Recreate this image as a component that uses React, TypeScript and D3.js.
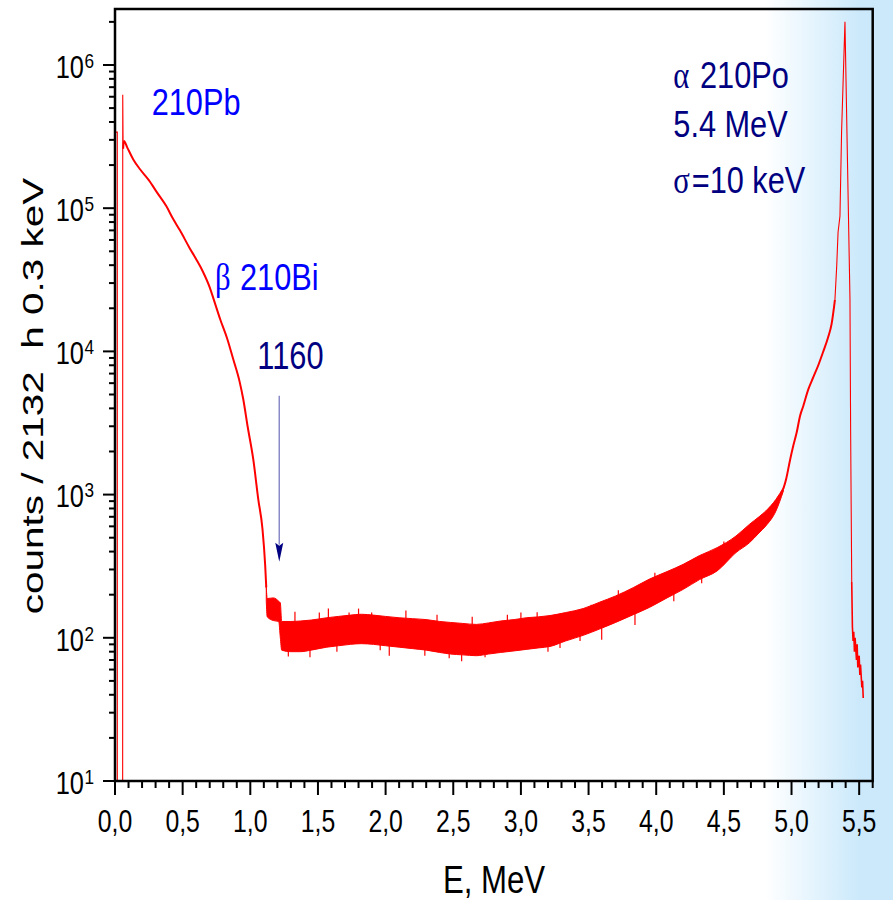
import React from 'react';
import * as d3 from 'd3';

const W = 893;
const H = 900;

// Axis ticks
const xMajor = [0, 0.5, 1.0, 1.5, 2.0, 2.5, 3.0, 3.5, 4.0, 4.5, 5.0, 5.5];
const xLabels = ['0,0', '0,5', '1,0', '1,5', '2,0', '2,5', '3,0', '3,5', '4,0', '4,5', '5,0', '5,5'];
const yDecades = [1, 2, 3, 4, 5, 6];

// Low-energy spikes (210Pb region)
const spikeE = [0.001, 0.0015, 0.017, 0.0172, 0.0565, 0.0572, 0.06];
const spikeV = [1, 340000, 340000, 1, 1, 620000, 260000];

// beta 210Bi continuum
const betaE = [0.06, 0.066, 0.09, 0.135, 0.185, 0.25, 0.31, 0.38, 0.43, 0.48, 0.55, 0.6, 0.65, 0.7, 0.73, 0.78, 0.83, 0.874, 0.92, 0.948, 0.98, 1.022, 1.059, 1.09, 1.11, 1.118];
const betaV = [260000, 295000, 266000, 219000, 187000, 157000, 129000, 103000, 84000, 70000, 53000, 44000, 36000, 28000, 23000, 16500, 12200, 8800, 6200, 4630, 3000, 1760, 927, 575, 320, 225];

// noisy flat region: envelope (upper / lower) of the counts
const bandE = [1.118, 1.125, 1.17, 1.21, 1.222, 1.232, 1.3, 1.37, 1.45, 1.565, 1.65, 1.74, 1.82, 1.91, 2.0, 2.1, 2.2, 2.3, 2.4, 2.48, 2.57, 2.67, 2.76, 2.85, 2.95, 3.04, 3.13, 3.215, 3.33, 3.46, 3.58, 3.7, 3.83, 3.95, 4.08, 4.2, 4.32, 4.45, 4.59, 4.69, 4.76, 4.81, 4.885, 4.94];
const bandHi = [230, 188, 190, 180, 175, 130, 130, 131, 133, 138, 141, 144, 146, 144, 141, 138, 136, 134, 130, 128, 126, 124, 127, 131, 134, 138, 140, 143, 150, 160, 177, 196, 224, 257, 290, 326, 375, 426, 514, 621, 700, 769, 927, 1120];
const bandLo = [180, 140, 132, 130, 100, 82, 80, 80, 82, 86, 88, 90, 91, 90, 88, 86, 84, 82, 79, 77, 76, 75, 77, 79, 81, 83, 85, 87, 95, 104, 115, 128, 145, 163, 190, 218, 255, 293, 394, 462, 540, 604, 769, 1060];

// isolated outlier channels visible beyond the band
const outE = [1.281, 1.33, 1.441, 1.51, 1.577, 1.64, 1.73, 1.80, 1.897, 1.96, 2.027, 2.15, 2.29, 2.38, 2.47, 2.562, 2.64, 2.735, 2.9, 3.0, 3.12, 3.2, 3.289, 3.437, 3.52, 3.597, 3.72, 3.843, 3.99, 4.13, 4.336, 4.5];
const outV = [74, 152, 73, 150, 160, 80, 150, 160, 150, 82, 75, 155, 75, 145, 72, 68.5, 140, 73, 145, 150, 151, 80, 85, 95, 170, 97, 215, 123, 285, 180, 240, 470];

// alpha 210Po low-energy shoulder
const alphaE = [4.94, 4.96, 4.99, 5.013, 5.038, 5.063, 5.087, 5.124, 5.161, 5.2, 5.235, 5.27, 5.296, 5.321];
const alphaV = [1100, 1280, 1760, 2190, 2710, 3540, 4160, 5430, 6600, 8100, 10000, 12500, 15500, 23000];

// alpha peak
const peakE = [5.321, 5.334, 5.344, 5.358, 5.37, 5.395, 5.432, 5.437, 5.445];
const peakV = [23000, 39400, 68000, 88000, 340000, 2000000, 23100, 2700, 245];

// high-energy tail
const tailE = [5.445, 5.45, 5.455, 5.46, 5.465, 5.47, 5.48, 5.485, 5.49, 5.5, 5.505, 5.51, 5.52, 5.525, 5.53];
const tailV = [245, 120, 95, 110, 80, 100, 70, 90, 62, 75, 55, 65, 45, 50, 38];

// arrow marking 1160 keV
const arrowE = 1.214;
const arrowTop = 4900;
const arrowTip = 340;

const PL = 115;
const PR = 872.7;
const PT = 9;
const PB = 781;

const SANS = '"Liberation Sans", Arial, Helvetica, sans-serif';
const SERIF = '"Liberation Serif", "Times New Roman", serif';
const BLUE = '#0000ff';
const NAVY = '#000080';
const RED = '#ff0000';

export default function App() {
  const x = d3.scaleLinear().domain([0, 5.6]).range([PL, PR]);
  const y = d3.scaleLog().domain([10, 2.46e6]).range([PB, PT]);

  const line = d3
    .line<[number, number]>()
    .x((d) => x(d[0]))
    .y((d) => y(d[1]));
  const smooth = d3
    .line<[number, number]>()
    .x((d) => x(d[0]))
    .y((d) => y(d[1]))
    .curve(d3.curveMonotoneX);

  const zip = (a: number[], b: number[]) => a.map((v, i) => [v, b[i]] as [number, number]);

  const area = d3
    .area<number>()
    .x((_, i) => x(bandE[i]))
    .y0((_, i) => y(bandLo[i]))
    .y1((_, i) => y(bandHi[i]))
    .curve(d3.curveMonotoneX);

  const bandMid = d3
    .scaleLinear()
    .domain(bandE)
    .range(bandE.map((_, i) => Math.sqrt(bandHi[i] * bandLo[i])));

  const xMinor = d3.range(0, 57).map((i) => i / 10).filter((v) => Math.abs(v * 2 - Math.round(v * 2)) > 1e-6);
  const yMinor: number[] = [];
  for (let d = 1; d <= 6; d++) {
    for (let m = 2; m <= 9; m++) {
      const v = m * Math.pow(10, d);
      if (v <= 2.46e6) yMinor.push(v);
    }
  }

  const ax = x(arrowE);
  const ayTop = y(arrowTop);
  const ayTip = y(arrowTip);

  return (
    <div style={{ position: 'absolute', left: 0, top: 0 }}>
      <svg width={W} height={H} style={{ display: 'block' }} xmlns="http://www.w3.org/2000/svg">
        <defs>
          <linearGradient id="bg" gradientUnits="userSpaceOnUse" x1={765} y1={0} x2={860} y2={0}>
            <stop offset="0" stopColor="#ffffff" />
            <stop offset="1" stopColor="#cbe9fb" />
          </linearGradient>
          <clipPath id="plotclip">
            <rect x={PL} y={PT} width={PR - PL} height={PB - PT} />
          </clipPath>
        </defs>
        <rect x={0} y={0} width={W} height={H} fill="url(#bg)" />

        <g clipPath="url(#plotclip)">
          <path d={line(zip(spikeE, spikeV)) || ''} fill="none" stroke={RED} strokeWidth={1.1} />
          <path d={smooth(zip(betaE, betaV)) || ''} fill="none" stroke={RED} strokeWidth={2} />
          <path d={area(bandE) || ''} fill={RED} stroke={RED} strokeWidth={1} />
          {outE.map((e, i) => (
            <line key={i} x1={x(e)} x2={x(e)} y1={y(outV[i])} y2={y(bandMid(e))} stroke={RED} strokeWidth={1.2} />
          ))}
          <path d={smooth(zip(alphaE, alphaV)) || ''} fill="none" stroke={RED} strokeWidth={2} />
          <path d={line(zip(peakE, peakV)) || ''} fill="none" stroke={RED} strokeWidth={1.1} />
          <path d={line(zip(tailE, tailV)) || ''} fill="none" stroke={RED} strokeWidth={1.6} />
        </g>

        {/* frame */}
        <rect x={PL} y={PT} width={PR - PL} height={PB - PT} fill="none" stroke="#000" strokeWidth={2.5} />

        {/* x ticks */}
        {xMajor.map((v, i) => (
          <g key={'xm' + i}>
            <line x1={x(v)} x2={x(v)} y1={PB} y2={PB + 14} stroke="#000" strokeWidth={2} />
            <text
              transform={`translate(${x(v)},${831.5}) scale(0.8,1)`}
              textAnchor="middle"
              fontFamily={SANS}
              fontSize={31}
              fill="#000"
            >
              {xLabels[i]}
            </text>
          </g>
        ))}
        {xMinor.map((v, i) => (
          <line key={'xn' + i} x1={x(v)} x2={x(v)} y1={PB} y2={PB + 7} stroke="#000" strokeWidth={2} />
        ))}

        {/* y ticks */}
        {yDecades.map((d) => {
          const ty = y(Math.pow(10, d));
          return (
            <g key={'yd' + d}>
              <line x1={PL - 12} x2={PL} y1={ty} y2={ty} stroke="#000" strokeWidth={2} />
              <text
                transform={`translate(84,${ty + 12.8}) scale(0.82,1)`}
                textAnchor="end"
                fontFamily={SANS}
                fontSize={31}
                fill="#000"
              >
                10
              </text>
              <text
                transform={`translate(84.5,${ty + 2.8}) scale(0.82,1)`}
                textAnchor="start"
                fontFamily={SANS}
                fontSize={21}
                fill="#000"
              >
                {String(d)}
              </text>
            </g>
          );
        })}
        {yMinor.map((v, i) => (
          <line key={'yn' + i} x1={PL - 6} x2={PL} y1={y(v)} y2={y(v)} stroke="#000" strokeWidth={2} />
        ))}

        {/* axis titles */}
        <text
          transform={`translate(43.3,396) rotate(-90) scale(1,0.75)`}
          textAnchor="middle"
          fontFamily={SANS}
          fontSize={40.5}
          fill="#000"
          style={{ whiteSpace: 'pre' }}
        >
          {'counts / 2132  h 0.3 keV'}
        </text>
        <text
          transform={`translate(494,893) scale(0.8,1)`}
          textAnchor="middle"
          fontFamily={SANS}
          fontSize={39}
          fill="#000"
        >
          E, MeV
        </text>

        {/* annotations */}
        <text transform="translate(151.7,115) scale(0.83,1)" fontFamily={SANS} fontSize={37} fill={BLUE}>
          210Pb
        </text>
        <text transform="translate(215,290) scale(0.83,1)" fontFamily={SERIF} fontSize={37} fill={BLUE}>
          β
        </text>
        <text transform="translate(240,290) scale(0.83,1)" fontFamily={SANS} fontSize={37} fill={BLUE}>
          210Bi
        </text>
        <text transform="translate(257.3,369.3) scale(0.8,1)" fontFamily={SANS} fontSize={38.5} fill={NAVY}>
          1160
        </text>
        <text transform="translate(673.3,88.3) scale(0.83,1)" fontFamily={SERIF} fontSize={37} fill={NAVY}>
          α
        </text>
        <text transform="translate(700,88.3) scale(0.83,1)" fontFamily={SANS} fontSize={37} fill={NAVY}>
          210Po
        </text>
        <text transform="translate(673.3,136.7) scale(0.83,1)" fontFamily={SANS} fontSize={37} fill={NAVY}>
          5.4 MeV
        </text>
        <text transform="translate(673.3,192.7) scale(0.83,1)" fontFamily={SERIF} fontSize={37} fill={NAVY}>
          σ
        </text>
        <text transform="translate(691.7,192.7) scale(0.83,1)" fontFamily={SANS} fontSize={37} fill={NAVY}>
          =10 keV
        </text>

        {/* arrow */}
        <line x1={ax} x2={ax} y1={ayTop} y2={ayTip - 17} stroke="#8a8ac8" strokeWidth={1.5} />
        <path
          d={`M${ax},${ayTip} L${ax - 4},${ayTip - 19} L${ax},${ayTip - 16} L${ax + 4},${ayTip - 19} Z`}
          fill={NAVY}
        />
      </svg>
    </div>
  );
}
